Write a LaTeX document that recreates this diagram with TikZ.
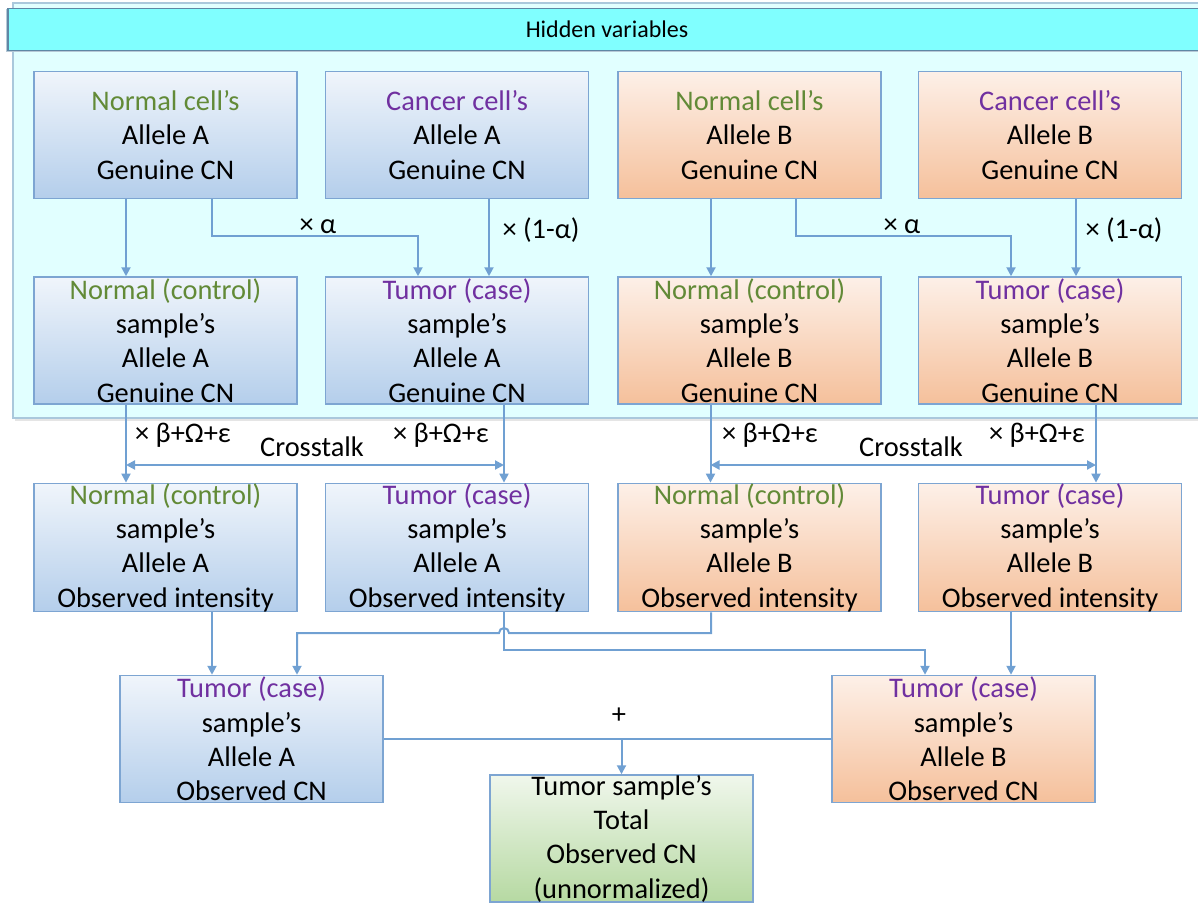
\documentclass[tikz,border=0pt]{standalone}
\usepackage{fontspec}
\setmainfont{Carlito}
\usetikzlibrary{arrows.meta}

\definecolor{panelfill}{RGB}{225,255,255}
\definecolor{paneledge}{RGB}{170,200,220}
\definecolor{headfill}{RGB}{128,255,255}
\definecolor{headedge}{RGB}{95,135,165}
\definecolor{boxedge}{RGB}{125,165,210}
\definecolor{connblue}{RGB}{112,160,210}
\definecolor{bluetop}{RGB}{240,245,251}
\definecolor{bluebot}{RGB}{180,206,235}
\definecolor{orgtop}{RGB}{253,240,232}
\definecolor{orgbot}{RGB}{245,192,155}
\definecolor{grntop}{RGB}{240,247,236}
\definecolor{grnbot}{RGB}{182,217,162}
\definecolor{ngreen}{RGB}{98,138,55}
\definecolor{tpurple}{RGB}{112,48,160}

\newcommand{\ngr}[1]{\textcolor{ngreen}{#1}}
\newcommand{\tpu}[1]{\textcolor{tpurple}{#1}}

\tikzset{
  box/.style={draw=boxedge, line width=1.5pt, minimum width=263pt,
    minimum height=127pt, inner sep=0pt, align=center,
    font=\fontsize{28.4}{34.3}\selectfont},
  bluebox/.style={box, top color=bluetop, bottom color=bluebot},
  orangebox/.style={box, top color=orgtop, bottom color=orgbot},
  greenbox/.style={box, top color=grntop, bottom color=grnbot},
  conn/.style={draw=connblue, line width=2pt,
    -{Triangle[width=9pt,length=9pt]}},
  link/.style={draw=connblue, line width=2pt},
  both/.style={draw=connblue, line width=2pt,
    {Triangle[width=9pt,length=9pt]}-{Triangle[width=9pt,length=9pt]}},
  lbl/.style={font=\fontsize{28.4}{34.3}\selectfont, inner sep=0pt}
}

\begin{document}
\begin{tikzpicture}[x=1pt,y=-1pt]
\useasboundingbox (0,0) rectangle (1198,904);

% hidden-variable panel and its title bar
\fill[black!10] (15,6) rectangle (1198,421);
\filldraw[fill=panelfill, draw=paneledge, line width=1.2pt] (13,3) rectangle (1202,418);
\fill[headedge!45] (5.5,9.5) rectangle (1198,52);
\node[draw=headedge, fill=headfill, line width=1.5pt, minimum width=1200pt,
      minimum height=42pt, inner sep=0pt, anchor=north west,
      font=\fontsize{24}{28}\selectfont] (hidden) at (7,8) {};
\node[font=\fontsize{24}{28}\selectfont] (hiddentxt) at (607,29) {Hidden variables};

% row 1: cell genuine copy numbers
\node[bluebox]   (r1c1) at (165.5,135) {\ngr{Normal cell’s}\\Allele A\\Genuine CN};
\node[bluebox]   (r1c2) at (457,135)   {\tpu{Cancer cell’s}\\Allele A\\Genuine CN};
\node[orangebox] (r1c3) at (749.5,135) {\ngr{Normal cell’s}\\Allele B\\Genuine CN};
\node[orangebox] (r1c4) at (1050,135)  {\tpu{Cancer cell’s}\\Allele B\\Genuine CN};

% row 2: sample genuine copy numbers
\node[bluebox]   (r2c1) at (165.5,340.5) {\ngr{Normal (control)}\\sample’s\\Allele A\\Genuine CN};
\node[bluebox]   (r2c2) at (457,340.5)   {\tpu{Tumor (case)}\\sample’s\\Allele A\\Genuine CN};
\node[orangebox] (r2c3) at (749.5,340.5) {\ngr{Normal (control)}\\sample’s\\Allele B\\Genuine CN};
\node[orangebox] (r2c4) at (1050,340.5)  {\tpu{Tumor (case)}\\sample’s\\Allele B\\Genuine CN};

% row 3: observed intensities
\node[bluebox]   (r3c1) at (165.5,547.5) {\ngr{Normal (control)}\\sample’s\\Allele A\\Observed intensity};
\node[bluebox]   (r3c2) at (457,547.5)   {\tpu{Tumor (case)}\\sample’s\\Allele A\\Observed intensity};
\node[orangebox] (r3c3) at (749.5,547.5) {\ngr{Normal (control)}\\sample’s\\Allele B\\Observed intensity};
\node[orangebox] (r3c4) at (1050,547.5)  {\tpu{Tumor (case)}\\sample’s\\Allele B\\Observed intensity};

% row 4: observed copy numbers and total
\node[bluebox]   (r4a) at (251.5,739) {\tpu{Tumor (case)}\\sample’s\\Allele A\\Observed CN};
\node[orangebox] (r4b) at (963.5,739) {\tpu{Tumor (case)}\\sample’s\\Allele B\\Observed CN};
\node[greenbox]  (tot) at (621.5,838.5) {Tumor sample’s\\Total\\Observed CN\\(unnormalized)};

% row 1 -> row 2
\draw[conn] ([xshift=-39.5pt]r1c1.south) -- ([xshift=-39.5pt]r2c1.north);
\draw[conn] ([xshift=46.5pt]r1c1.south) -- ++(0,37) -| ([xshift=-39pt]r2c2.north);
\draw[conn] ([xshift=32pt]r1c2.south) -- ([xshift=32pt]r2c2.north);
\draw[conn] ([xshift=-38.5pt]r1c3.south) -- ([xshift=-38.5pt]r2c3.north);
\draw[conn] ([xshift=46.5pt]r1c3.south) -- ++(0,37) -| ([xshift=-39pt]r2c4.north);
\draw[conn] ([xshift=26pt]r1c4.south) -- ([xshift=26pt]r2c4.north);
\node[lbl] (la1) at (318,226) {× α};
\node[lbl] (la2) at (541,230) {× (1-α)};
\node[lbl] (lb1) at (902,226) {× α};
\node[lbl] (lb2) at (1124,230) {× (1-α)};

% row 2 -> row 3 with crosstalk
\draw[conn] ([xshift=-39.5pt]r2c1.south) -- ([xshift=-39.5pt]r3c1.north);
\draw[conn] ([xshift=47pt]r2c2.south) -- ([xshift=47pt]r3c2.north);
\draw[conn] ([xshift=-39pt]r2c3.south) -- ([xshift=-39pt]r3c3.north);
\draw[conn] ([xshift=46pt]r2c4.south) -- ([xshift=46pt]r3c4.north);
\coordinate (ctA1) at (126,465);
\coordinate (ctA2) at (504,465);
\coordinate (ctB1) at (710.5,465);
\coordinate (ctB2) at (1096,465);
\draw[both] (ctA1) -- (ctA2);
\draw[both] (ctB1) -- (ctB2);
\node[lbl] (na1) at (183,435) {× β+Ω+ε};
\node[lbl] (na2) at (441,435) {× β+Ω+ε};
\node[lbl] (ca)  at (312,447) {Crosstalk};
\node[lbl] (nb1) at (770,435) {× β+Ω+ε};
\node[lbl] (nb2) at (1037,435) {× β+Ω+ε};
\node[lbl] (cb)  at (911,447) {Crosstalk};

% row 3 -> row 4
\draw[conn] ([xshift=46.5pt]r3c1.south) -- ([xshift=-39.5pt]r4a.north);
\draw[conn] ([xshift=47pt]r3c2.south) -- ++(0,38) -| ([xshift=-38.5pt]r4b.north);
\draw[conn] ([xshift=-38.5pt]r3c3.south) |- (509,633)
  arc[start angle=0, end angle=180, radius=5pt] -| ([xshift=45.5pt]r4a.north);
\draw[conn] ([xshift=-39pt]r3c4.south) -- ([xshift=47.5pt]r4b.north);

% sum into the total
\draw[conn] (r4a.east) -| (tot.north);
\draw[link] (r4b.west) -- (r4b.west -| tot.north);
\node[lbl] (plus) at (619,716) {+};
\end{tikzpicture}
\end{document}
